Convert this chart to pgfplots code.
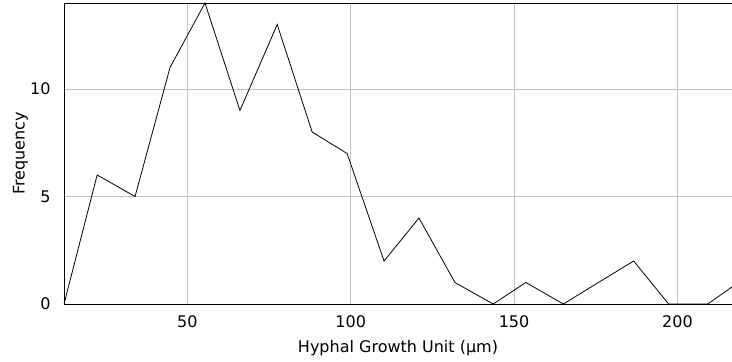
\documentclass[border=0pt]{standalone}
\usepackage{fontspec}
\setmainfont{DejaVu Sans}
\usepackage{pgfplots}
\pgfplotsset{compat=1.18}
\begin{document}
\fontsize{16bp}{19bp}\selectfont
\begin{tikzpicture}[x=1bp,y=1bp]
\useasboundingbox (-64,-57) rectangle (668,304);
\begin{axis}[
  name=ax,
  at={(0,0)}, anchor=south west,
  scale only axis, width=668bp, height=301bp,
  xmin=12.25, xmax=216.7, ymin=0, ymax=14,
  xtick={50,100,150,200}, ytick={0,5,10},
  axis x line*=box, axis y line*=left,
  xticklabel pos=lower,
  axis line style={black, line width=0.9bp},
  grid=major, grid style={black!24, line width=0.9bp},
  tick style={draw=none},
  /pgf/number format/assume math mode=true,
  xlabel={Hyphal Growth Unit (µm)},
  ylabel={Frequency},
  xlabel style={at={(axis description cs:0.5,-0.146)}, anchor=center},
  ylabel style={at={(axis description cs:-0.065,0.5)}, anchor=center},
  xticklabel style={anchor=center, yshift=-18bp},
  yticklabel style={anchor=east, xshift=-8bp},
]
\addplot[black, line width=0.8bp] coordinates {
  (12.25,0) (22.4,6) (34.0,5) (44.7,11) (55.4,14) (66.1,9) (77.5,13)
  (88.2,8) (98.9,7) (110.2,2) (120.9,4) (131.9,1) (143.6,0) (153.6,1)
  (165.1,0) (175.8,1) (186.6,2) (197.3,0) (209.3,0) (218.6,1)
};
\end{axis}
\end{tikzpicture}
\end{document}
